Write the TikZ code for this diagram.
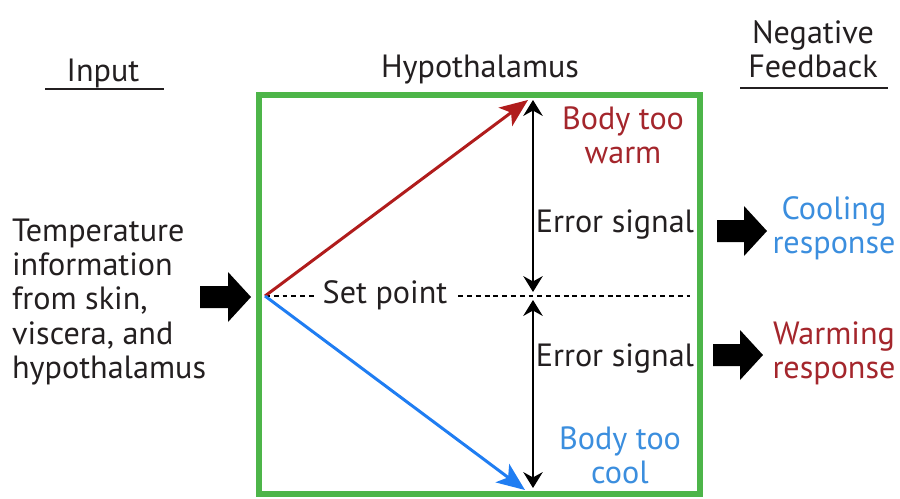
\documentclass[tikz,border=0pt]{standalone}
\usepackage{fontspec}
\setmainfont{PT Sans}
\usetikzlibrary{arrows.meta}
\definecolor{cText}{HTML}{231F20}
\definecolor{cGreen}{HTML}{4DB549}
\definecolor{cWarm}{HTML}{A4262C}
\definecolor{cWarmArrow}{HTML}{B01C1C}
\definecolor{cCool}{HTML}{3B8EDE}
\definecolor{cCoolArrow}{HTML}{1F7DF2}
\tikzset{
  lbl/.style={font=\fontsize{18.3}{19.4}\selectfont, align=center, inner sep=1pt, text=#1},
  lbl/.default=cText,
  rule/.style={line width=1.2pt, cText},
  trend/.style={-{Stealth[length=16pt, width=13pt, inset=4pt]}, line width=1.7pt, color=#1},
  errarrow/.style={{Stealth[length=9pt, width=11pt, inset=3pt]}-{Stealth[length=9pt, width=11pt, inset=3pt]}, line width=1.6pt, black},
  blockarrow/.style={fill=black},
}

\begin{document}
\begin{tikzpicture}[x=0.02cm, y=-0.02cm]
  \useasboundingbox (0,0) rectangle (900,498);

  % Column headings
  \node[lbl] (input) at (103,73) {Input};
  \draw[rule] (45,89) -- (164,89);
  \node[lbl] (hyp) at (480,70) {Hypothalamus};
  \node[lbl] (negfb) at (813,49) {Negative\\Feedback};
  \draw[rule] (740,88) -- (888,88);

  % Hypothalamus frame
  \draw[cGreen, line width=3.4pt] (259,95) rectangle (700,494);

  % Input text and arrow
  \node[lbl, align=left, anchor=west] (tinfo) at (10,302)
    {Temperature\\information\\from skin,\\viscera, and\\hypothalamus};
  \fill[blockarrow] (200,286) -- (228,286) -- (228,272) -- (251,297)
    -- (228,322) -- (228,308) -- (200,308) -- cycle;

  % Set point and deviations
  \coordinate (sp) at (265,296);
  \coordinate (warm) at (528,100);
  \coordinate (cool) at (525,490);
  \coordinate (spend) at (690,296);
  \draw[densely dashed, dash pattern=on 2.8pt off 2.2pt, line width=0.6pt] (sp) -- (spend);
  \node[lbl, fill=white, inner xsep=4pt] (setpt) at (385,295) {Set point};
  \draw[trend=cWarmArrow] (sp) -- (warm);
  \draw[trend=cCoolArrow] (sp) -- (cool);

  % Error signals
  \coordinate (etop) at (533,100);
  \coordinate (emidA) at (533,292);
  \coordinate (emidB) at (533,300);
  \coordinate (ebot) at (533,488);
  \draw[errarrow] (etop) -- (emidA);
  \draw[errarrow] (emidB) -- (ebot);
  \node[lbl] (err1) at (615,225) {Error signal};
  \node[lbl] (err2) at (615,359) {Error signal};
  \node[lbl=cWarm] (twarm) at (623,135) {Body too\\warm};
  \node[lbl=cCool] (tcool) at (620,455) {Body too\\cool};

  % Responses
  \fill[blockarrow] (717,220) -- (744,220) -- (744,206) -- (767,231)
    -- (744,256) -- (744,242) -- (717,242) -- cycle;
  \fill[blockarrow] (713,344) -- (740,344) -- (740,330) -- (763,355)
    -- (740,380) -- (740,366) -- (713,366) -- cycle;
  \node[lbl=cCool] (coolresp) at (834,228) {Cooling\\response};
  \node[lbl=cWarm] (warmresp) at (834,353) {Warming\\response};
\end{tikzpicture}
\end{document}
